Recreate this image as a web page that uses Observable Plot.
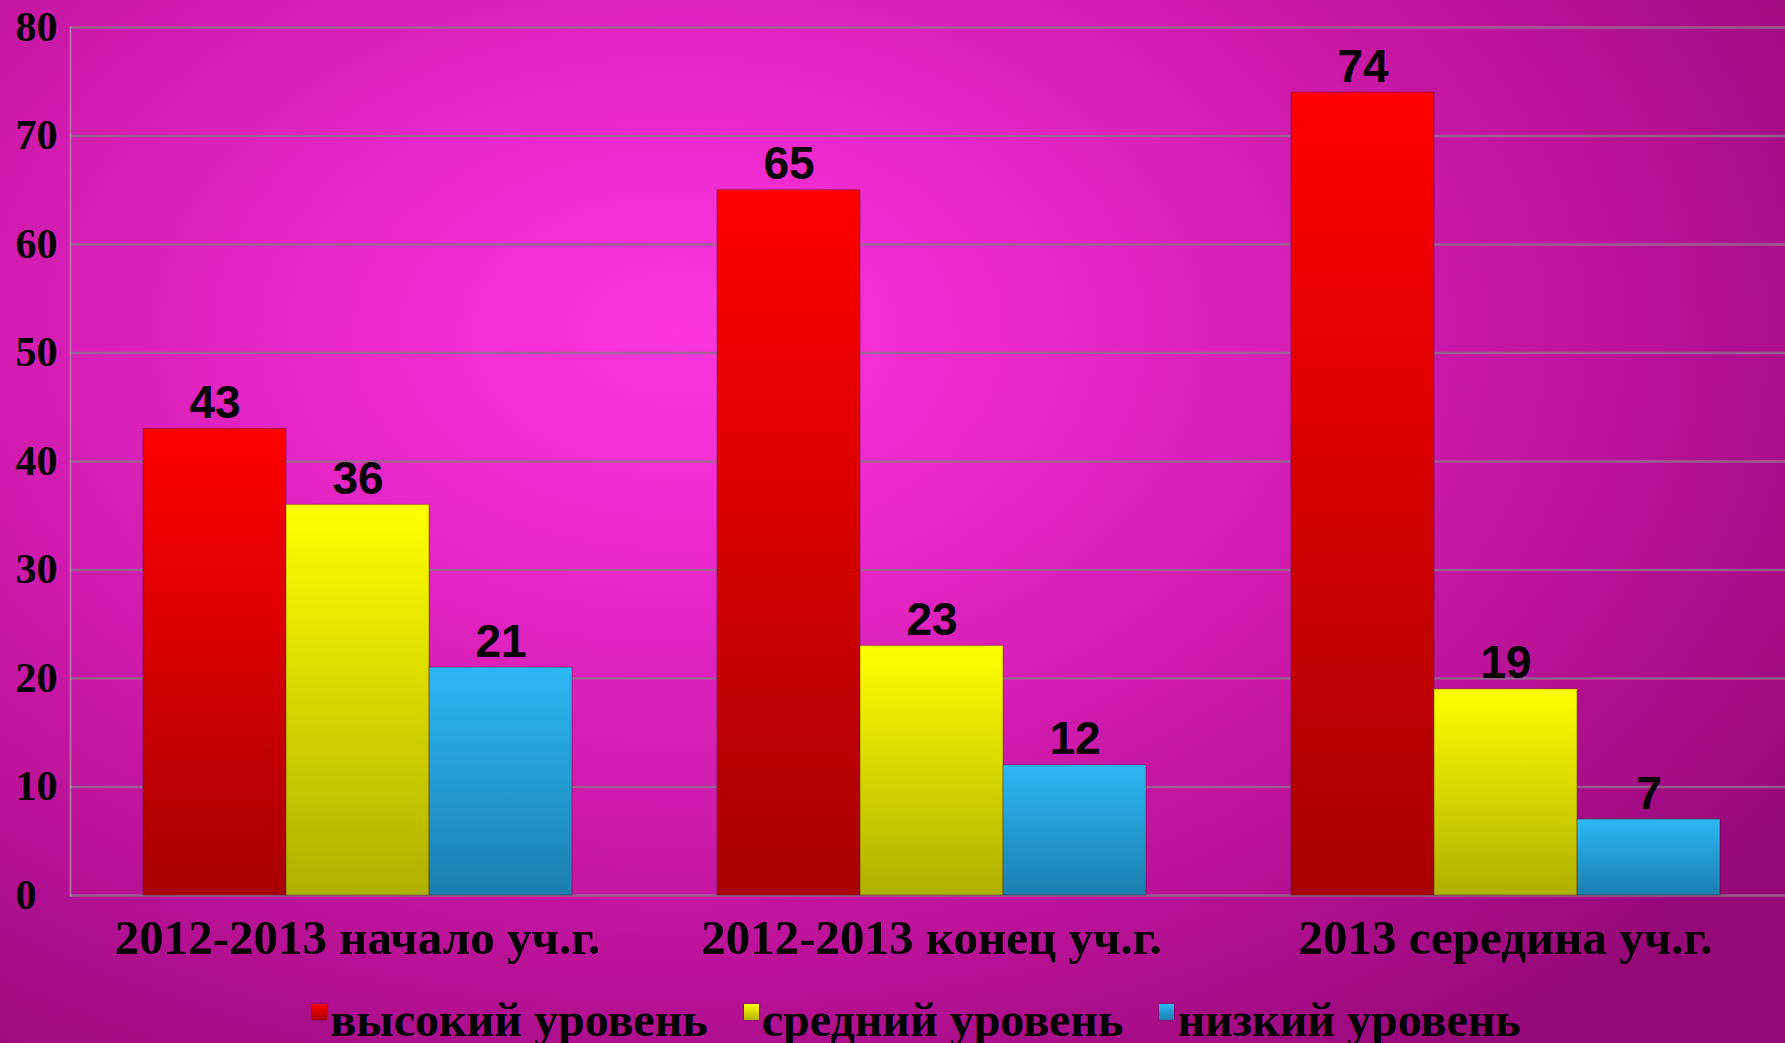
<!DOCTYPE html>
<html>
<head>
<meta charset="utf-8">
<script src="https://cdn.jsdelivr.net/npm/d3@7"></script>
<script src="https://cdn.jsdelivr.net/npm/@observablehq/plot@0.6"></script>
<style>
  html, body { margin: 0; padding: 0; width: 1785px; height: 1043px; overflow: hidden; }
  body {
    background: radial-gradient(ellipse 75% 85% at 38% 32%, #ff36de 0%, #e626c6 30%, #c2159f 65%, #960878 100%);
  }
  #legend {
    display: flex; justify-content: center; align-items: center;
    font-family: "Liberation Serif", "Times New Roman", serif; font-weight: bold;
    font-size: 48px; line-height: 52px; color: #000; margin-top: 17px; padding-left: 48px;
    white-space: nowrap; width: 1785px; box-sizing: border-box;
  }
  .item { display: flex; align-items: center; margin: 0 18px; }
  .sw { width: 15px; height: 16px; margin-right: 3px; margin-top: -16px; box-shadow: 0 0 2px rgba(0,0,0,0.5); }
  #chart { width: 1785px; overflow: hidden; }
  #chart svg { display: block; max-width: none !important; }
</style>
</head>
<body>
<div id="chart"></div>
<div id="legend"></div>
<script>
const categories = ["2012-2013 начало уч.г.", "2012-2013 конец уч.г.", "2013 середина уч.г."];
const seriesNames = ["высокий уровень", "средний уровень", "низкий уровень"];
const highValues = [43, 65, 74];
const midValues = [36, 23, 19];
const lowValues = [21, 12, 7];
const yTicks = [0, 10, 20, 30, 40, 50, 60, 70, 80];
const gradientStops = [
  ["#ff0000", "#a80000"],
  ["#ffff00", "#b0b000"],
  ["#2cb8f4", "#1a7fae"]
];
const gradientIds = ["gradHigh", "gradMid", "gradLow"];

const seriesValues = [highValues, midValues, lowValues];
const data = [];
categories.forEach((c, i) => {
  seriesNames.forEach((s, j) => data.push({cat: c, series: s, value: seriesValues[j][i]}));
});

const chart = Plot.plot({
  width: 1792,
  height: 977,
  marginTop: 27,
  marginBottom: 82,
  marginLeft: 70,
  marginRight: 0,
  style: {background: "transparent", color: "black", overflow: "visible"},
  fx: {domain: categories, padding: 0, label: null},
  x: {domain: seriesNames, paddingInner: 0, paddingOuter: 0.5, axis: null},
  y: {domain: [0, 80], label: null},
  color: {domain: seriesNames, range: gradientIds.map(id => `url(#${id})`)},
  marks: [
    Plot.gridY(yTicks, {stroke: "#946c8e", strokeOpacity: 0.85, strokeWidth: 2.5}),
    Plot.frame({anchor: "left", fx: [categories[0]], stroke: "#a883a2", strokeOpacity: 0.85, strokeWidth: 2}),
    Plot.barY(data, {fx: "cat", x: "series", y: "value", fill: "series", stroke: "rgba(60,0,0,0.35)", strokeWidth: 1}),
    Plot.text(data, {fx: "cat", x: "series", y: "value", text: d => String(d.value), dy: -11, lineAnchor: "bottom",
      fontSize: 46, fontWeight: "bold", fontFamily: "Liberation Sans, Arial, sans-serif", fill: "black"}),
    Plot.axisY(yTicks, {tickSize: 0, tickPadding: 55, textAnchor: "start", label: null,
      fontSize: 42, fontWeight: "bold", fontFamily: "Liberation Serif, Times New Roman, serif"}),
    Plot.axisFx({anchor: "bottom", tickSize: 0, tickPadding: 24, label: null,
      fontSize: 49, fontWeight: "bold", fontFamily: "Liberation Serif, Times New Roman, serif"})
  ]
});

const svg = d3.select(chart);
const defs = svg.insert("defs", ":first-child");
gradientIds.forEach((id, i) => {
  const g = defs.append("linearGradient").attr("id", id).attr("x1", 0).attr("y1", 0).attr("x2", 0).attr("y2", 1);
  g.append("stop").attr("offset", "0%").attr("stop-color", gradientStops[i][0]);
  g.append("stop").attr("offset", "100%").attr("stop-color", gradientStops[i][1]);
});
document.getElementById("chart").appendChild(chart);

const legend = d3.select("#legend");
seriesNames.forEach((s, i) => {
  const it = legend.append("div").attr("class", "item");
  it.append("div").attr("class", "sw")
    .style("background", `linear-gradient(${gradientStops[i][0]}, ${gradientStops[i][1]})`);
  it.append("span").text(s);
});
</script>
</body>
</html>
